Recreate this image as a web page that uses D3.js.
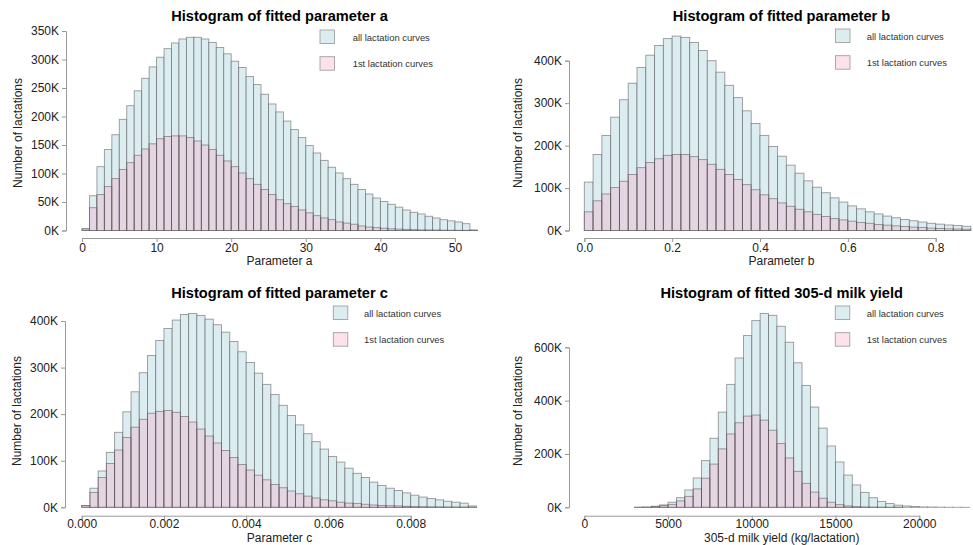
<!DOCTYPE html>
<meta charset="utf-8">
<style>
  body { margin: 0; background: #fff; }
  text { font-family: "Liberation Sans", Arial, sans-serif; }
</style>
<body>
<script src="https://d3js.org/d3.v7.min.js"></script>
<script>
// counts per bin, in thousands of lactations
var allA = [3, 61, 112, 142, 168, 195, 219, 245, 267, 287, 304, 319, 329, 336, 339, 339, 336, 330, 321, 310,
  297, 286, 270, 256, 239, 222, 208, 192, 177, 163, 149, 136, 123, 111, 101, 91, 81, 72, 64, 57,
  51, 46, 41, 36, 32, 29, 25, 22, 19, 17, 15, 12, 1];
var firstA = [3, 40, 63, 77, 91, 107, 119, 132, 143, 152, 161, 165, 166, 166, 163, 157, 150, 142, 132, 122,
  112, 101, 91, 81, 72, 63, 54, 47, 42, 36, 31, 26, 22, 19, 15, 13, 11, 8, 6, 5,
  4, 3, 2.5, 2, 1.5, 1, 1, 0.8, 0.6, 0.5, 0.4, 0.3, 0.2];

var allB = [114, 179, 224, 267, 308, 347, 384, 413, 436, 452, 458, 455, 443, 424, 400, 373, 342, 313, 282, 252,
  224, 198, 175, 154, 135, 117, 102, 89, 77, 67, 58, 51, 44, 39, 34, 30, 26, 23, 20, 17, 15, 13, 12, 10];
var firstB = [44, 70, 86, 101, 116, 132, 148, 160, 169, 177, 179, 179, 174, 167, 156, 144, 132, 120, 108, 96,
  84, 75, 65, 57, 50, 44, 38, 33, 28, 25, 22, 19, 17, 14, 12.6, 11, 9.4, 8, 7, 5.5, 4.7, 4, 3.5, 3];

var allC = [4, 41, 78, 118, 161, 205, 248, 289, 326, 358, 384, 402, 414, 416, 412, 404, 392, 376, 356, 334,
  311, 288, 264, 242, 219, 197, 177, 158, 141, 125, 109, 97, 84, 73, 64, 54, 47, 41, 36, 31,
  26, 22, 19, 16, 13, 11, 9, 3];
var firstC = [3.5, 32, 64, 94, 123, 150, 172, 189, 202, 206, 208, 204, 195, 183, 168, 153, 138, 122, 107, 92,
  80, 69, 59, 49, 42, 35, 29, 24, 20, 16, 14, 11, 9, 8, 6.5, 5, 4, 3.5, 3, 2,
  1.5, 1.3, 1, 0.9, 0.7, 0.6, 0.5, 0.2];

var allD = [0, 0, 0, 0, 0, 0, 0.3, 1, 4, 9, 19, 36, 65, 110, 175, 259, 357, 461, 560, 644,
  700, 727, 720, 679, 619, 542, 457, 376, 297, 230, 170, 121, 84, 56, 36, 22, 14, 8, 5, 3,
  1.5, 1, 0.5, 0.2, 0.1, 0.1];
var firstD = [0, 0, 0, 0, 0, 0, 0.2, 0.7, 2.5, 6, 11, 24, 41, 69, 109, 162, 219, 275, 317, 342,
  346, 327, 289, 239, 185, 135, 90, 57, 34, 19, 10, 5, 2.5, 1.2, 0.6, 0.3, 0.1, 0.05, 0, 0,
  0, 0, 0, 0, 0, 0];

// tick labels
var xTicksA = [0, 10, 20, 30, 40, 50], yTicksA = [0, 50, 100, 150, 200, 250, 300, 350];
var xTicksB = [0, 0.2, 0.4, 0.6, 0.8], yTicksB = [0, 100, 200, 300, 400];
var xTicksC = [0, 0.002, 0.004, 0.006, 0.008], yTicksC = [0, 100, 200, 300, 400];
var xTicksD = [0, 5000, 10000, 15000, 20000], yTicksD = [0, 200, 400, 600];

var legendLabels = ["all lactation curves", "1st lactation curves"];
var allFill = "#dcedf2", firstFill = "rgba(250,160,189,0.3)";

var panels = [
  {title: "Histogram of fitted parameter a", xlab: "Parameter a", all: allA, first: firstA, binW: 1,
   xTicks: xTicksA, yTicks: yTicksA, fmt: d3.format("d"),
   xr: [82, 455], yr: [230.5, 31], axisY: 238, yAxisX: 66, pad: 1,
   titleX: 279.5, titleY: 20.5, xlabY: 265, ylabX: 22, ylabY: 133, legX: 320, legY: 30, textX: 352.7},
  {title: "Histogram of fitted parameter b", xlab: "Parameter b", all: allB, first: firstB, binW: 0.02,
   xTicks: xTicksB, yTicks: yTicksB, fmt: d3.format(".1f"),
   xr: [584.3, 935.7], yr: [230.5, 60.7], axisY: 238, yAxisX: 569, pad: 1,
   titleX: 781.5, titleY: 20.5, xlabY: 265, ylabX: 522, ylabY: 133, legX: 835.5, legY: 29, textX: 866.7},
  {title: "Histogram of fitted parameter c", xlab: "Parameter c", all: allC, first: firstC, binW: 0.0002,
   xTicks: xTicksC, yTicks: yTicksC, fmt: d3.format(".3f"),
   xr: [81.7, 410.7], yr: [507.3, 321], axisY: 515.7, yAxisX: 65, pad: 0,
   titleX: 279.5, titleY: 297.5, xlabY: 542, ylabX: 21, ylabY: 411, legX: 333.3, legY: 306, textX: 364},
  {title: "Histogram of fitted 305-d milk yield", xlab: "305-d milk yield (kg/lactation)", all: allD, first: firstD, binW: 500,
   xTicks: xTicksD, yTicks: yTicksD, fmt: d3.format("d"),
   xr: [584.3, 919.3], yr: [507.3, 347.3], axisY: 515.7, yAxisX: 569, pad: 0,
   titleX: 781.7, titleY: 297.5, xlabY: 542, ylabX: 522, ylabY: 411, legX: 835.3, legY: 306, textX: 866.7}
];

var svg = d3.select("body").append("svg")
  .attr("width", 973)
  .attr("height", 545);

panels.forEach(function(p) {
  var g = svg.append("g");

  var x = d3.scaleLinear()
    .domain([p.xTicks[0], p.xTicks[p.xTicks.length - 1]])
    .range(p.xr);
  var y = d3.scaleLinear()
    .domain([0, p.yTicks[p.yTicks.length - 1]])
    .range(p.yr);

  // bars for all lactations, then 1st lactations drawn over them
  [[p.all, allFill], [p.first, firstFill]].forEach(function(s) {
    g.append("g").selectAll("rect")
      .data(s[0])
      .enter().append("rect")
        .attr("x", function(d, i) { return x(i * p.binW); })
        .attr("width", function(d, i) { return x((i + 1) * p.binW) - x(i * p.binW); })
        .attr("y", function(d) { return y(d); })
        .attr("height", function(d) { return y(0) - y(d); })
        .style("fill", s[1])
        .style("stroke", "#4a4a4a")
        .style("stroke-opacity", 0.55)
        .style("stroke-width", 0.9);
  });

  // axes, R style: line only between first and last tick
  var ya = g.append("g")
    .attr("transform", "translate(" + p.yAxisX + ",0)")
    .call(d3.axisLeft(y).tickValues(p.yTicks).tickSize(4).tickPadding(3)
      .tickFormat(function(d) { return d + "K"; }));
  var xa = g.append("g")
    .attr("transform", "translate(0," + p.axisY + ")")
    .call(d3.axisBottom(x).tickValues(p.xTicks).tickSize(4).tickPadding(p.pad).tickFormat(p.fmt));
  [ya, xa].forEach(function(a) {
    a.selectAll("path, line").attr("stroke", "#9a9a9a");
    a.selectAll("text").attr("fill", "#222").style("font-size", "12px");
  });

  g.append("text")
    .attr("x", p.titleX).attr("y", p.titleY)
    .attr("text-anchor", "middle")
    .style("font-size", "14.6px").style("font-weight", "bold")
    .text(p.title);

  g.append("text")
    .attr("x", p.titleX).attr("y", p.xlabY)
    .attr("text-anchor", "middle")
    .style("font-size", "12px").attr("fill", "#222")
    .text(p.xlab);

  g.append("text")
    .attr("transform", "translate(" + p.ylabX + "," + p.ylabY + ") rotate(-90)")
    .attr("text-anchor", "middle")
    .style("font-size", "12px").attr("fill", "#222")
    .text("Number of lactations");

  // legend
  var leg = g.append("g");
  legendLabels.forEach(function(lab, i) {
    var ly = p.legY + i * 26.7;
    leg.append("rect")
      .attr("x", p.legX).attr("y", ly)
      .attr("width", 14.5).attr("height", 13.5)
      .style("fill", i === 0 ? allFill : firstFill)
      .style("stroke", "#a0a0a0").style("stroke-width", 0.9);
    leg.append("text")
      .attr("x", p.textX).attr("y", ly + 10.5)
      .style("font-size", "9.4px").attr("fill", "#333")
      .text(lab);
  });
});
</script>
</body>
